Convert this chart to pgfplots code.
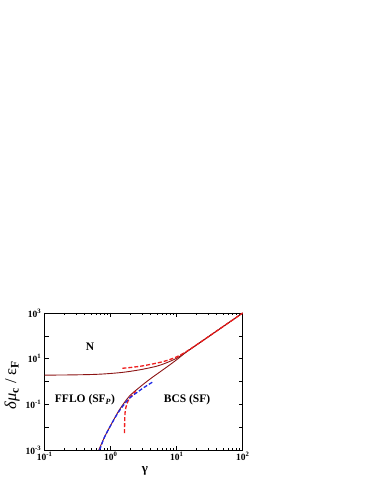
\documentclass[border=0pt]{standalone}
\usepackage{fontspec}
\setmainfont{Liberation Serif}
\usepackage{pgfplots}
\pgfplotsset{compat=1.18}
\definecolor{dred}{RGB}{140,20,20}
\definecolor{lred}{RGB}{240,30,30}
\definecolor{lblue}{RGB}{30,40,230}
\begin{document}
\begin{tikzpicture}[x=1pt,y=1pt]
\path[use as bounding box] (0,0) rectangle (374,484);
\begin{axis}[
  at={(44.7pt,34pt)}, anchor=south west,
  scale only axis, width=198pt, height=137pt,
  xmode=log, ymode=log,
  xmin=0.1, xmax=100, ymin=1e-3, ymax=1e3,
  xtick={0.1,1,10,100},
  xticklabels={10\textsuperscript{-1},10\textsuperscript{0},10\textsuperscript{1},10\textsuperscript{2}},
  ytick={1e-3,1e-2,1e-1,1,10,100,1000},
  yticklabels={10\textsuperscript{-3},,10\textsuperscript{-1},,10\textsuperscript{1},,10\textsuperscript{3}},
  yminorticks=false,
  tick align=inside, tick pos=both,
  major tick length=4pt, minor tick length=2.2pt,
  tick label style={font=\bfseries\fontsize{9.5}{10}\selectfont},
  xticklabel style={yshift=1pt},
  axis line style={line width=0.8pt},
  every tick/.style={black, line width=0.6pt},
  clip=true,
]
% upper solid (N boundary)
\addplot[dred, line width=0.9pt, smooth] coordinates {
(0.1,1.9) (0.2,1.93) (0.3,1.96) (0.5,2.02) (0.7,2.1) (1,2.25) (1.5,2.5) (2,2.8) (3,3.4) (5,4.7) (7,6.6) (10,10.5) (14,19.8) (20,40) (30,90) (50,250) (100,1000)};
% lower solid (BCS boundary)
\addplot[dred, line width=0.9pt, smooth] coordinates {
(0.66,0.001) (0.8,0.0035) (1.0,0.012) (1.34,0.055) (1.9,0.22) (2.72,0.55) (3.9,1.25) (5,2.1) (7,4.2) (10,9) (14,19.6) (20,40) (30,90) (50,250) (100,1000)};
% red dashed upper
\addplot[lred, line width=1.3pt, dash pattern=on 4pt off 2pt, smooth] coordinates {
(1.5,3.8) (2,4.1) (3,4.8) (5,6.4) (7,8.2) (10,12) (14,20.5) (20,40.5) (30,90.5) (50,251) (100,1000)};
% red dashed lower
\addplot[lred, line width=1.3pt, dash pattern=on 4pt off 2pt, smooth] coordinates {
(1.62,0.0055) (1.63,0.02) (1.66,0.05) (1.75,0.1) (1.9,0.17) (2.1,0.25) (2.4,0.37)};
% blue dashed
\addplot[lblue, line width=1.3pt, dash pattern=on 4pt off 2pt, smooth] coordinates {
(0.68,0.001) (0.8,0.0035) (1.0,0.012) (1.34,0.05) (1.9,0.18) (2.5,0.33) (3.2,0.55) (4.4,0.98)};
\end{axis}
\node[font=\bfseries\fontsize{11.5}{12}\selectfont] at (90,137) {N};
\node[font=\bfseries\fontsize{11.5}{12}\selectfont] at (85,84) {FFLO (SF\textsubscript{\textit{P}})};
\node[font=\bfseries\fontsize{11.5}{12}\selectfont] at (187,84) {BCS (SF)};
\node[font=\bfseries\fontsize{13}{14}\selectfont] at (145,13) {γ};
\node[rotate=90, font=\fontsize{16.5}{17}\selectfont] at (12,99) {\textit{δμ}\textsubscript{\textbf{c}} / ε\textsubscript{\textbf{F}}};
\end{tikzpicture}
\end{document}
